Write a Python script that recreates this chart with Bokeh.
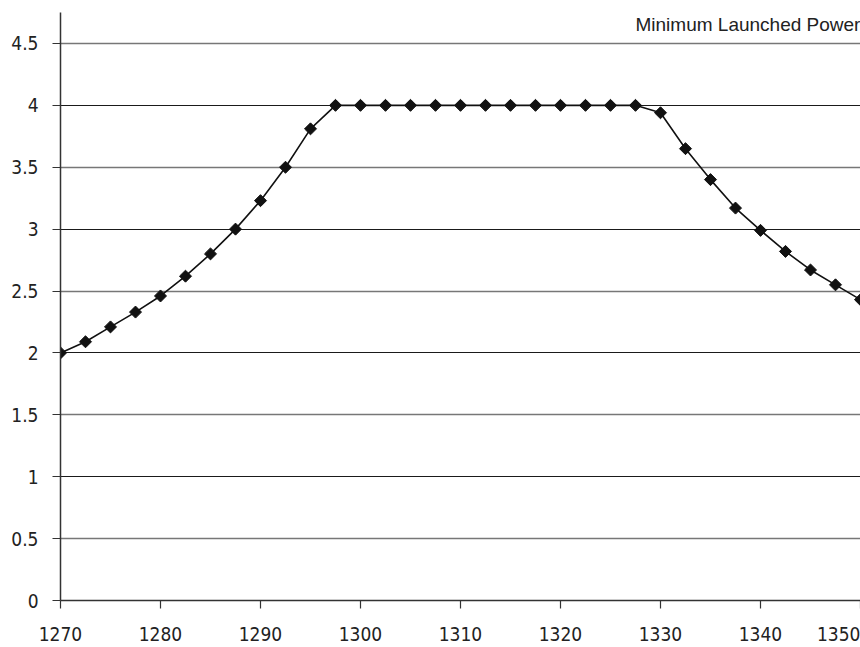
import math
from bokeh.plotting import figure
from bokeh.models import Range1d, FixedTicker, Grid, Label
from bokeh.embed import file_html
from bokeh.resources import INLINE

wavelength = [1270, 1272.5, 1275, 1277.5, 1280, 1282.5, 1285, 1287.5, 1290, 1292.5,
              1295, 1297.5, 1300, 1302.5, 1305, 1307.5, 1310, 1312.5, 1315, 1317.5,
              1320, 1322.5, 1325, 1327.5, 1330, 1332.5, 1335, 1337.5, 1340, 1342.5,
              1345, 1347.5, 1350]
power = [2.0, 2.09, 2.21, 2.33, 2.46, 2.62, 2.80, 3.0, 3.23, 3.5,
         3.81, 4.0, 4.0, 4.0, 4.0, 4.0, 4.0, 4.0, 4.0, 4.0,
         4.0, 4.0, 4.0, 4.0, 3.94, 3.65, 3.40, 3.17, 2.99, 2.82,
         2.67, 2.55, 2.43]
x_ticks = [1270, 1280, 1290, 1300, 1310, 1320, 1330, 1340, 1350]
y_ticks = [0, 0.5, 1, 1.5, 2, 2.5, 3, 3.5, 4, 4.5]
title_text = "Minimum Launched Power"

FONT = "DejaVu Sans Condensed, Roboto"

p = figure(width=860, height=647, output_backend="svg", toolbar_location=None,
           x_range=Range1d(1270, 1350), y_range=Range1d(0, 4.75),
           min_border_left=60, min_border_right=0, min_border_top=12, min_border_bottom=47)
p.outline_line_color = None
p.background_fill_color = "white"
p.border_fill_color = "white"

p.xgrid.visible = False
p.ygrid.visible = False
p.add_layout(Grid(dimension=1, ticker=FixedTicker(ticks=[1, 2, 3, 4]),
                  grid_line_color="#1a1a1a", grid_line_width=1.2))
p.add_layout(Grid(dimension=1, ticker=FixedTicker(ticks=[0.5, 1.5, 2.5, 3.5, 4.5]),
                  grid_line_color="#777777", grid_line_width=1.5))

for ax in (p.xaxis[0], p.yaxis[0]):
    ax.axis_line_color = "#333333"
    ax.axis_line_width = 1.5
    ax.major_tick_line_color = "#333333"
    ax.major_tick_line_width = 1.2
    ax.major_tick_in = 0
    ax.major_tick_out = 8
    ax.minor_tick_line_color = None
    ax.major_label_text_font = FONT
    ax.major_label_text_font_size = "19px"
    ax.major_label_text_color = "#222222"

p.xaxis.ticker = FixedTicker(ticks=x_ticks)
p.yaxis.ticker = FixedTicker(ticks=y_ticks)
p.xaxis.major_label_standoff = 18
p.yaxis.major_label_standoff = 14
p.yaxis.major_label_overrides = {0: "0", 1: "1", 2: "2", 3: "3", 4: "4"}

p.line(wavelength, power, line_color="#111111", line_width=1.6)
p.scatter(wavelength, power, marker="square", size=8.5, angle=math.pi / 4,
          fill_color="#111111", line_color="#111111")

p.add_layout(Label(x=1327.5, y=4.653, text=title_text, text_font="Liberation Sans",
                   text_font_size="19px", text_color="#222222", text_baseline="alphabetic"))

open("out.html", "w").write(file_html(p, INLINE))
